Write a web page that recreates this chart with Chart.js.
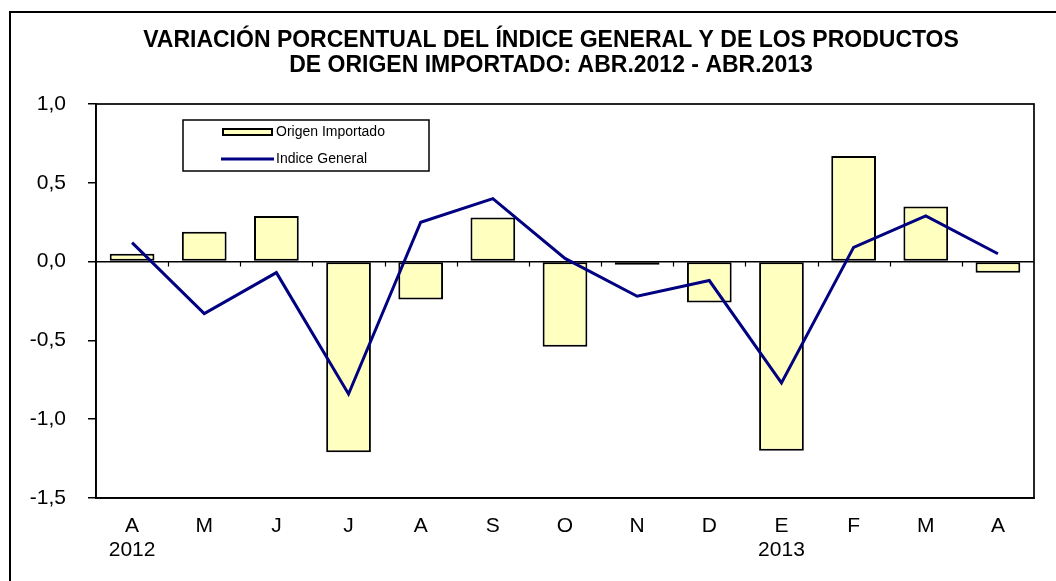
<!DOCTYPE html>
<html>
<head>
<meta charset="utf-8">
<script src="https://cdn.jsdelivr.net/npm/chart.js@4/dist/chart.umd.min.js"></script>
<style>
  html, body { margin: 0; padding: 0; background: #fff; overflow: hidden; width: 1056px; height: 581px; }
  #frame { position: absolute; left: 9px; top: 11px; width: 1200px; height: 700px; border: 2px solid #000; box-sizing: border-box; }
  #c { position: absolute; left: 0; top: 0; }
</style>
</head>
<body>
<div id="frame"></div>
<canvas id="c" width="1102" height="581"></canvas>
<script>
const categories = [['A', '2012'], 'M', 'J', 'J', 'A', 'S', 'O', 'N', 'D', ['E', '2013'], 'F', 'M', 'A'];
const origenImportado = [0.05, 0.19, 0.29, -1.21, -0.24, 0.28, -0.54, -0.02, -0.26, -1.20, 0.67, 0.35, -0.07];
const indiceGeneral = [0.12, -0.33, -0.07, -0.84, 0.25, 0.40, 0.02, -0.22, -0.12, -0.77, 0.09, 0.29, 0.05];
const yTicks = { min: -1.5, max: 1.0, step: 0.5 };
const titleLines = ['VARIACIÓN PORCENTUAL DEL ÍNDICE GENERAL Y DE LOS PRODUCTOS', 'DE ORIGEN IMPORTADO: ABR.2012 - ABR.2013'];
const seriesNames = ['Origen Importado', 'Indice General'];

const FONT = "'Liberation Sans', Arial, sans-serif";
const BAR_FILL = '#FFFFC0';
const LINE_COLOR = '#000080';

const framePlugin = {
  id: 'framePlugin',
  afterDraw(chart) {
    const ctx = chart.ctx;
    const a = chart.chartArea;
    const xs = chart.scales.x;
    const ys = chart.scales.y;
    ctx.save();
    // plot area border
    ctx.strokeStyle = '#000';
    ctx.lineWidth = 1.7;
    ctx.strokeRect(a.left, a.top, a.right - a.left, a.bottom - a.top);
    // category boundary tick marks on zero line
    const y0 = ys.getPixelForValue(0);
    ctx.lineWidth = 1.2;
    ctx.beginPath();
    for (let i = 1; i < categories.length; i++) {
      const xb = (xs.getPixelForValue(i - 1) + xs.getPixelForValue(i)) / 2;
      ctx.moveTo(Math.round(xb) + 0.5, y0);
      ctx.lineTo(Math.round(xb) + 0.5, y0 + 5);
    }
    ctx.stroke();

    // legend box
    const barDs = chart.data.datasets.find(d => d.type === 'bar');
    const lineDs = chart.data.datasets.find(d => d.type === 'line');
    const lx = a.left + 87, ly = a.top + 16, lw = 246, lh = 51;
    ctx.fillStyle = '#fff';
    ctx.fillRect(lx, ly, lw, lh);
    ctx.strokeStyle = '#000';
    ctx.lineWidth = 1.5;
    ctx.strokeRect(lx, ly, lw, lh);
    // bar swatch
    ctx.fillStyle = barDs.backgroundColor;
    ctx.lineWidth = 2;
    ctx.fillRect(lx + 40, ly + 9, 49, 6);
    ctx.strokeRect(lx + 40, ly + 9, 49, 6);
    // line swatch
    ctx.strokeStyle = lineDs.borderColor;
    ctx.lineWidth = 3;
    ctx.beginPath();
    ctx.moveTo(lx + 38, ly + 39);
    ctx.lineTo(lx + 91, ly + 39);
    ctx.stroke();
    ctx.fillStyle = '#000';
    ctx.font = '14px ' + FONT;
    ctx.textBaseline = 'middle';
    ctx.textAlign = 'left';
    ctx.fillText(barDs.label, lx + 93, ly + 12);
    ctx.fillText(lineDs.label, lx + 93, ly + 39);
    ctx.restore();
  }
};

new Chart(document.getElementById('c'), {
  type: 'bar',
  data: {
    labels: categories,
    datasets: [
      {
        type: 'line',
        label: seriesNames[1],
        data: indiceGeneral,
        borderColor: LINE_COLOR,
        backgroundColor: LINE_COLOR,
        borderWidth: 3,
        pointRadius: 0,
        tension: 0,
        order: 0
      },
      {
        type: 'bar',
        label: seriesNames[0],
        data: origenImportado,
        backgroundColor: BAR_FILL,
        borderColor: '#000',
        borderWidth: 2,
        borderSkipped: false,
        barPercentage: 0.62,
        categoryPercentage: 1.0,
        order: 1
      }
    ]
  },
  options: {
    responsive: false,
    animation: false,
    events: [],
    layout: { padding: { left: 0, right: 0, top: 0, bottom: 0 } },
    plugins: {
      legend: { display: false },
      tooltip: { enabled: false },
      title: {
        display: true,
        text: titleLines,
        color: '#000',
        font: { family: FONT, size: 23, weight: 'bold', lineHeight: 25 / 23 },
        padding: { top: 28.5, bottom: 25.5 }
      }
    },
    scales: {
      x: {
        type: 'category',
        offset: true,
        grid: { display: false, drawTicks: false },
        border: { display: true, color: '#000', width: 1.7 },
        ticks: {
          color: '#000',
          font: { family: FONT, size: 21, lineHeight: 24 / 21 },
          padding: 16,
          maxRotation: 0,
          autoSkip: false
        },
        afterFit(scale) { scale.height = 83; }
      },
      y: {
        min: yTicks.min,
        max: yTicks.max,
        grid: {
          drawOnChartArea: true,
          color: (ctx) => (ctx.tick && ctx.tick.value === 0 ? '#000' : 'rgba(0,0,0,0)'),
          lineWidth: 1.5,
          tickColor: '#000',
          tickLength: 8,
          drawTicks: true
        },
        border: { display: true, color: '#000', width: 1.7 },
        ticks: {
          stepSize: yTicks.step,
          color: '#000',
          font: { family: FONT, size: 21 },
          padding: 22,
          callback: (v) => v.toFixed(1).replace('.', ',')
        },
        afterFit(scale) { scale.width = 96; }
      },
      spacer: {
        type: 'linear',
        position: 'right',
        display: true,
        grid: { display: false, drawTicks: false },
        border: { display: false },
        ticks: { display: false },
        afterFit(scale) { scale.width = 68; }
      }
    }
  },
  plugins: [framePlugin]
});
</script>
</body>
</html>
